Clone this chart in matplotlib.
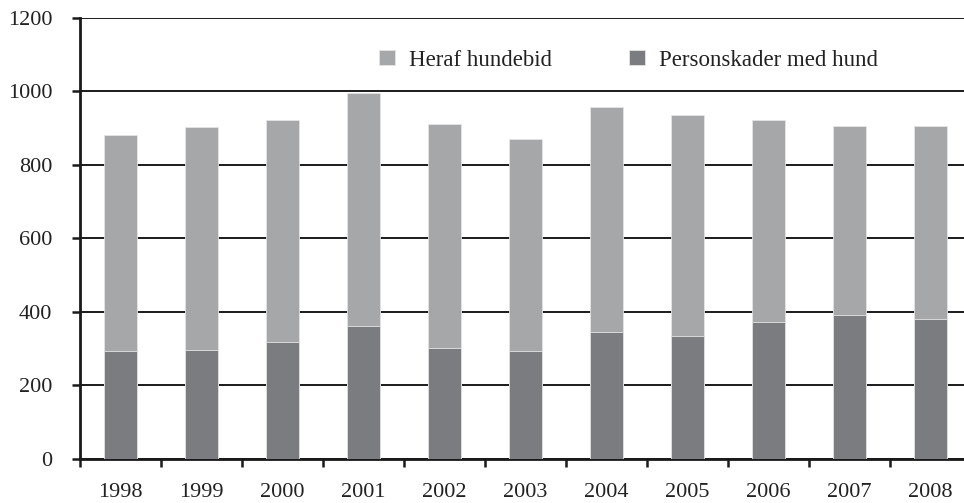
import matplotlib
matplotlib.use("Agg")
import matplotlib.pyplot as plt
import numpy as np

years = ["1998", "1999", "2000", "2001", "2002", "2003", "2004", "2005", "2006", "2007", "2008"]
personskader = [881, 902, 923, 995, 912, 871, 958, 937, 923, 906, 906]
hundebid = [293, 297, 319, 360, 302, 293, 344, 335, 371, 390, 381]

light = "#a6a7a9"
dark = "#7b7c80"

plt.rcParams['font.family'] = ['Liberation Serif', 'DejaVu Serif']

fig = plt.figure(figsize=(9.64, 5.03), dpi=100)
ax = fig.add_axes([80/964, 1-458.7/503, (971-80)/964, (458.7-18)/503])

x = np.arange(len(years))
ax.bar(x, personskader, width=0.41, color=light, edgecolor="#e4e4e4", linewidth=0.6, zorder=2,
       label="Heraf hundebid")
ax.bar(x, hundebid, width=0.41, color=dark, edgecolor="#e4e4e4", linewidth=0.6, zorder=3,
       label="Personskader med hund")

ax.set_xlim(-0.5, len(years) - 0.5)
ax.set_ylim(0, 1200)
ax.set_yticks(np.arange(0, 1201, 200))
ax.yaxis.grid(True, color="#1a1a1a", linewidth=1.4, zorder=0)
ax.set_axisbelow(True)

ax.set_xticks(x)
ax.set_xticklabels(years)
ax.set_xticks(np.arange(-0.5, len(years), 1.0), minor=True)
ax.tick_params(axis='x', which='major', length=0, pad=17.5, labelsize=16, labelcolor="#222222")
ax.tick_params(axis='x', which='minor', length=6, width=1.8, color="#1a1a1a", direction='out')
ax.tick_params(axis='y', length=6, width=1.8, color="#1a1a1a", pad=14, labelsize=16,
               labelcolor="#222222")

for s in ["top", "right"]:
    ax.spines[s].set_visible(False)
for s in ["left", "bottom"]:
    ax.spines[s].set_linewidth(2.0)
    ax.spines[s].set_color("#1a1a1a")

leg = fig.legend(loc='center', bbox_to_anchor=(628.5/964, 1-60/503), ncol=2, frameon=False,
                 fontsize=16.5, handlelength=0.7, handleheight=0.6, handletextpad=0.6,
                 columnspacing=3.4, labelcolor="#222222")

fig.savefig("out.png", dpi=100)
